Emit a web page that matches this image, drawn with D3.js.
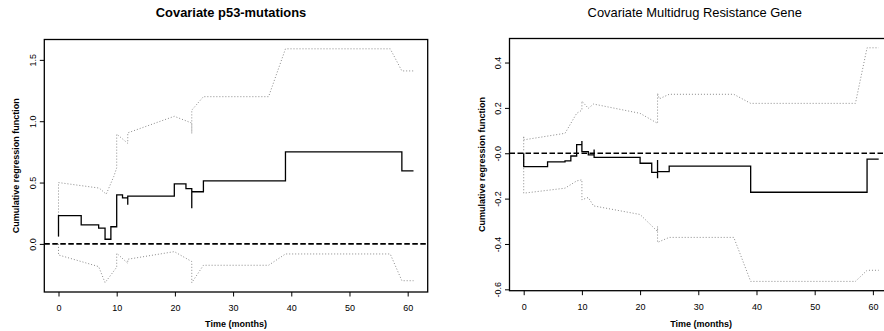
<!DOCTYPE html>
<html>
<head>
<meta charset="utf-8">
<script src="https://cdn.jsdelivr.net/npm/d3@7"></script>
<style>
  body { margin: 0; background: white; }
  svg { font-family: "Liberation Sans", Arial, Helvetica, sans-serif; }
  .tick text { font-size: 9px; fill: black; }
  .tick line, .domain { stroke: black; }
</style>
</head>
<body>
<svg id="chart" width="884" height="331"></svg>
<script>
// Datos (tiempo en meses, valor acumulado)

const xTicks = [0, 10, 20, 30, 40, 50, 60]

// Panel izquierdo: p53
const p53Ticks = [0, 0.5, 1, 1.5]
const p53TickLabels = ['0.0', '0.5', '1.0', '1.5']
const p53Est = [
  [0, 0.06], [0, 0.23], [3.9, 0.155], [6.9, 0.128], [8.0, 0.038], [9.0, 0.14],
  [10.0, 0.40], [11.0, 0.375], [11.9, 0.32], [11.9, 0.39], [19.9, 0.49],
  [21.9, 0.45], [22.9, 0.29], [22.9, 0.425], [24.9, 0.514], [39.0, 0.75],
  [59.0, 0.596], [61.0, 0.596]
]
const p53Upper = [
  [0, 0.06], [0, 0.50], [7.0, 0.455], [8.2, 0.405], [9.5, 0.55], [10, 0.62],
  [10, 0.895], [11.9, 0.82], [11.9, 0.905], [19.9, 1.04], [22.9, 0.985],
  [22.9, 0.90], [22.9, 1.09], [24.9, 1.20], [36.1, 1.20], [39, 1.59],
  [57, 1.59], [59, 1.41], [61, 1.41]
]
const p53Lower = [
  [0, 0.0], [0, -0.09], [6.9, -0.185], [8.0, -0.316], [10, -0.19], [10, -0.076],
  [11.9, -0.158], [11.9, -0.125], [19.9, -0.063], [22.9, -0.144], [22.9, -0.316],
  [24.9, -0.174], [36.1, -0.174], [39, -0.082], [57, -0.082], [59, -0.30],
  [61, -0.30]
]

// Panel derecho: Multidrug Resistance Gene
const mdrTicks = [-0.6, -0.4, -0.2, 0, 0.2, 0.4]
const mdrTickLabels = ['-0.6', '-0.4', '-0.2', '-0.0', '0.2', '0.4']
const mdrEst = [
  [0, 0], [0, -0.059], [4.1, -0.038], [7.1, -0.034], [8.1, -0.012], [9.1, 0.038],
  [10.0, 0.054], [10.0, 0.007], [11.1, -0.007], [12.1, 0.017], [12.1, -0.018],
  [20.0, -0.044], [22.0, -0.084], [23.0, -0.03], [23.0, -0.11], [23.0, -0.081],
  [25.0, -0.057], [39.0, -0.172], [59.0, -0.026], [61.0, -0.026]
]
const mdrUpper = [
  [0, 0], [0, 0.076], [0, 0.059], [7.1, 0.088], [9.1, 0.176], [10, 0.19],
  [10, 0.23], [11.1, 0.198], [12, 0.217], [20, 0.176], [23, 0.132], [23, 0.265],
  [23.3, 0.24], [25, 0.26], [36.1, 0.26], [39, 0.22], [57, 0.22], [59, 0.465],
  [61, 0.465]
]
const mdrLower = [
  [0, 0], [0, -0.176], [7.1, -0.154], [9.1, -0.122], [10, -0.117], [10, -0.205],
  [11.1, -0.195], [12, -0.232], [20, -0.27], [23, -0.345], [23, -0.323],
  [23, -0.393], [25, -0.371], [36.1, -0.371], [39, -0.565], [57, -0.565],
  [59, -0.516], [61, -0.516]
]

const svg = d3.select('#chart')

const render = (opt) => {
  const { left, top, width, height, yDomain } = opt

  const xScale = d3.scaleLinear().domain([-2.44, 63.44]).range([0, width])
  const yScale = d3.scaleLinear().domain(yDomain).range([height, 0])

  const g = svg.append('g')
      .attr('transform', `translate(${left}, ${top})`)

  // Bandas de confianza (punteadas)
  const band = d3.line()
      .x(d => xScale(d[0]))
      .y(d => yScale(d[1]))

  ;[opt.upper, opt.lower].forEach(data => {
    g.append('path')
        .attr('d', band(data))
        .attr('fill', 'none')
        .attr('stroke', '#8a8a8a')
        .attr('stroke-width', 1)
        .attr('stroke-dasharray', '1,2')
  })

  // Linea en cero
  g.append('line')
      .attr('x1', 0)
      .attr('x2', width)
      .attr('y1', yScale(0))
      .attr('y2', yScale(0))
      .attr('stroke', 'black')
      .attr('stroke-width', 1.6)
      .attr('stroke-dasharray', '5.5,2.5')

  // Estimacion (escalones)
  const step = d3.line()
      .x(d => xScale(d[0]))
      .y(d => yScale(d[1]))
      .curve(d3.curveStepAfter)

  g.append('path')
      .attr('d', step(opt.est))
      .attr('fill', 'none')
      .attr('stroke', 'black')
      .attr('stroke-width', 1.3)

  // Caja
  g.append('rect')
      .attr('width', width)
      .attr('height', height)
      .attr('fill', 'none')
      .attr('stroke', 'black')
      .attr('stroke-width', 1.3)

  // Ejes
  const xAxisGroup = g.append('g')
      .attr('transform', `translate(0, ${height})`)
      .call(d3.axisBottom(xScale).tickValues(xTicks).tickSize(4.5).tickPadding(8))
  xAxisGroup.select('.domain').remove()

  const yAxisGroup = g.append('g')
      .call(d3.axisLeft(yScale)
        .tickValues(opt.yTicks)
        .tickFormat((d, i) => opt.yTickLabels[i])
        .tickSize(4.5))
  yAxisGroup.select('.domain').remove()
  yAxisGroup.selectAll('.tick text')
      .attr('transform', 'rotate(-90)')
      .attr('x', 0)
      .attr('y', -8.5)
      .attr('dy', 0)
      .attr('text-anchor', 'middle')

  // Textos
  svg.append('text')
      .attr('x', opt.titleX)
      .attr('y', 17)
      .attr('text-anchor', 'middle')
      .attr('font-size', '12.9px')
      .attr('font-weight', opt.titleBold ? 'bold' : 'normal')
      .text(opt.title)

  svg.append('text')
      .attr('x', left + width / 2)
      .attr('y', 326.5)
      .attr('text-anchor', 'middle')
      .attr('font-size', '9px')
      .attr('font-weight', 'bold')
      .text('Time (months)')

  svg.append('text')
      .attr('transform', `translate(${opt.yLabelX}, ${top + height / 2}) rotate(-90)`)
      .attr('text-anchor', 'middle')
      .attr('font-size', '9px')
      .attr('font-weight', 'bold')
      .text('Cumulative regression function')
}

render({
  left: 44.3, top: 39.5, width: 383.4, height: 252.5,
  yDomain: [-0.392, 1.666],
  yTicks: p53Ticks, yTickLabels: p53TickLabels,
  est: p53Est, upper: p53Upper, lower: p53Lower,
  title: 'Covariate p53-mutations', titleBold: true, titleX: 231,
  yLabelX: 19
})

render({
  left: 509.5, top: 38.5, width: 383.4, height: 252.2,
  yDomain: [-0.606, 0.506],
  yTicks: mdrTicks, yTickLabels: mdrTickLabels,
  est: mdrEst, upper: mdrUpper, lower: mdrLower,
  title: 'Covariate Multidrug Resistance Gene', titleBold: false, titleX: 694.7,
  yLabelX: 484.5
})
</script>
</body>
</html>
